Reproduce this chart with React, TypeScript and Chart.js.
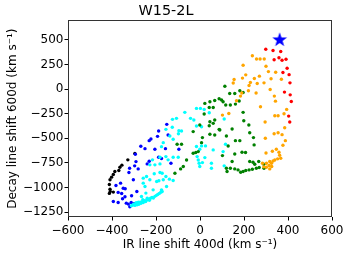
import { useEffect, useRef } from 'react';
import { Chart, registerables } from 'chart.js';

Chart.register(...registerables);

const chartTitle = 'W15-2L';
const xTitle = 'IR line shift 400d (km s\u207B\u00B9)';
const yTitle = 'Decay line shift 600d (km s\u207B\u00B9)';
const xTicks = [-600, -400, -200, 0, 200, 400, 600];
const yTicks = [-1250, -1000, -750, -500, -250, 0, 250, 500];
const xRange = [-600, 600];
const yRange = [-1300, 700];

const starPoint: [number, number][] = [[362, 500]];

const blackPts: [number, number][] = [
  [-296, -655], [-328, -719], [-355, -773], [-364, -794], [-369, -828], [-387, -838],
  [-394, -868], [-402, -895], [-409, -922], [-412, -969], [-409, -1017], [-408, -1040],
  [-394, -1047], [-412, -1060],
];

const bluePts: [number, number][] = [
  [-151, -358], [-145, -466], [-188, -426], [-193, -480], [-223, -507], [-231, -524],
  [-269, -581], [-250, -605], [-205, -611], [-157, -605], [-96, -611], [-132, -753],
  [-175, -706], [-294, -662], [-188, -692], [-231, -733], [-240, -760], [-281, -811],
  [-297, -780], [-320, -804], [-323, -848], [-303, -922], [-382, -980], [-372, -1050],
  [-356, -1061], [-340, -1013], [-341, -1094], [-352, -1115], [-372, -1152], [-335, -1159],
  [-326, -1169], [-319, -1196], [-313, -1152], [-287, -1040], [-361, -956], [-349, -1007],
  [-394, -1142], [-311, -1084], [-300, -1165], [-291, -737],
];

const cyanPts: [number, number][] = [
  [-16, -196], [2, -196], [19, -206], [42, -240], [-69, -236], [-107, -297], [-125, -307],
  [-43, -297], [-28, -314], [-16, -375], [7, -382], [-96, -422], [-126, -388], [-155, -409],
  [-137, -476], [-122, -510], [-167, -544], [-84, -426], [-98, -453],
  [-1, -611], [-13, -686], [-8, -720], [11, -747], [60, -618], [105, -635], [52, -804],
  [110, -780], [110, -304], [116, -561], [-16, -584], [7, -577], [25, -577], [22, -696],
  [52, -753], [-4, -753], [-1, -787],
  [-182, -692], [-155, -686], [-216, -719], [-228, -770], [-182, -760], [-145, -719],
  [-122, -692], [-99, -692], [-243, -888], [-208, -861], [-182, -848], [-155, -888],
  [-139, -915], [-122, -929], [-167, -922], [-187, -932], [-175, -585], [-205, -770],
  [-172, -855], [-258, -905], [-228, -922], [-197, -939], [-250, -990], [-213, -1024],
  [-175, -1024], [-152, -990], [-266, -1091], [-246, -1057], [-258, -956],
  [-312, -1185], [-305, -1178], [-300, -1170], [-296, -1182], [-290, -1165], [-286, -1175],
  [-282, -1160], [-278, -1170], [-272, -1150], [-268, -1160], [-263, -1145], [-258, -1152],
  [-252, -1135], [-247, -1142], [-242, -1128], [-236, -1120], [-230, -1130], [-225, -1110],
  [-218, -1100], [-212, -1108], [-205, -1090], [-198, -1080], [-192, -1070], [-185, -1060],
  [-178, -1048], [-172, -1040], [-280, -1150], [-290, -1155], [-260, -1125], [-240, -1110],
];

const greenPts: [number, number][] = [
  [113, 30], [135, -44], [158, -44], [181, -17], [196, -34], [178, -121], [67, -115],
  [87, -98], [98, -111], [105, -128], [45, -128], [22, -145], [60, -186], [42, -186],
  [117, -162], [138, -162], [161, -152], [196, -236], [199, -321], [222, -365], [146, -405],
  [226, -443], [161, -524], [181, -524], [243, -493], [246, -567], [102, -676], [158, -659],
  [191, -642], [207, -645], [146, -736], [226, -736], [241, -743], [249, -763], [267, -736],
  [120, -804], [138, -804], [158, -811], [173, -821], [185, -845], [196, -838], [208, -828],
  [223, -821], [238, -814], [256, -804], [269, -797], [290, -763], [291, -804], [19, -253],
  [60, -348], [42, -372], [-1, -365], [87, -409], [67, -466], [45, -459], [120, -476],
  [-31, -432], [11, -493], [7, -544], [128, -578], [-84, -561], [-104, -561], [-8, -635],
  [-19, -645], [-31, -652], [-61, -720], [-76, -787], [-88, -811], [-114, -855], [67, -314],
  [45, -331], [90, -415], [123, -838],
];

const orangePts: [number, number][] = [
  [238, 340], [257, 307], [273, 307], [292, 307], [196, 243], [300, 232], [311, 178],
  [344, 172], [208, 145], [193, 112], [270, 132], [247, 108], [323, 105], [370, 100],
  [155, 98], [151, 62], [229, 68], [223, 37], [260, 57], [291, 64], [220, -17], [190, -40],
  [184, -71], [319, -3], [338, -71], [343, -122], [255, -40], [166, -118], [275, -179],
  [394, -206], [382, -250], [102, -264], [131, -247], [340, -270], [355, -270], [296, -334],
  [337, -453], [355, -443], [373, -463], [388, -524], [377, -571], [297, -500], [300, -649],
  [329, -632], [347, -611], [359, -642], [362, -672], [367, -703], [353, -709], [332, -730],
  [317, -736], [302, -753], [284, -753], [314, -777], [326, -787], [302, -794], [317, -811],
  [290, -790], [385, -392], [340, -720], [325, -753],
];

const redPts: [number, number][] = [
  [299, 405], [332, 392], [367, 382], [337, 299], [359, 319], [373, 294], [391, 304],
  [396, 213], [377, 169], [405, 147], [409, 64], [384, -30], [410, -58], [415, -125],
  [403, -274], [408, -334],
];

const FONT = "'DejaVu Sans', sans-serif";

function makeStar(size: number, color: string) {
  const c = document.createElement('canvas');
  c.width = size;
  c.height = size;
  const ctx = c.getContext('2d')!;
  const cx = size / 2;
  const cy = size / 2;
  const R = size / 2 - 0.3;
  const r = R * 0.4;
  ctx.beginPath();
  for (let i = 0; i < 10; i++) {
    const ang = -Math.PI / 2 + (i * Math.PI) / 5;
    const rad = i % 2 === 0 ? R : r;
    ctx.lineTo(cx + rad * Math.cos(ang), cy + rad * Math.sin(ang));
  }
  ctx.closePath();
  ctx.fillStyle = color;
  ctx.fill();
  return c;
}

const toXY = (arr: [number, number][]) => arr.map(([x, y]) => ({ x, y }));
const fmt = (v: number) => (v < 0 ? '\u2212' + Math.abs(v) : String(v));

const framePlugin = {
  id: 'frame',
  afterDatasetsDraw(chart: any) {
    const { ctx, chartArea } = chart;
    ctx.save();
    ctx.strokeStyle = '#333';
    ctx.lineWidth = 1;
    const l = Math.round(chartArea.left) + 0.5;
    const t = Math.round(chartArea.top) + 0.5;
    const r = Math.round(chartArea.right) - 0.5;
    const b = Math.round(chartArea.bottom) - 0.5;
    ctx.strokeRect(l, t, r - l, b - t);
    ctx.restore();
  },
};

export default function App() {
  const ref = useRef<HTMLCanvasElement>(null);
  useEffect(() => {
    document.body.style.margin = '0';
    const canvas = ref.current!;
    const star = makeStar(16, '#0000ff');
    const dot = (label: string, data: [number, number][], color: string) => ({
      label,
      data: toXY(data),
      backgroundColor: color,
      borderWidth: 0,
      pointRadius: 1.7,
      pointHoverRadius: 1.7,
    });
    const chart = new Chart(canvas, {
      type: 'scatter',
      data: {
        datasets: [
          {
            label: 'star',
            data: toXY(starPoint),
            pointStyle: star as any,
            pointRadius: 8,
            backgroundColor: '#0000ff',
            borderWidth: 0,
          },
          dot('red', redPts, '#ff0000'),
          dot('orange', orangePts, '#ffa500'),
          dot('green', greenPts, '#008000'),
          dot('cyan', cyanPts, '#00ffff'),
          dot('blue', bluePts, '#0000ff'),
          dot('black', blackPts, '#000000'),
        ],
      },
      options: {
        responsive: false,
        animation: false,
        events: [],
        layout: { padding: { left: 0, right: 17, top: 0, bottom: 0 } },
        plugins: {
          legend: { display: false },
          tooltip: { enabled: false },
          title: {
            display: true,
            text: chartTitle,
            color: '#000',
            font: { family: FONT, size: 14.4, weight: 'normal', lineHeight: 1.2 },
            padding: { top: 3, bottom: 0 },
          },
        },
        scales: {
          x: {
            type: 'linear',
            min: xRange[0],
            max: xRange[1],
            afterBuildTicks: (s: any) => {
              s.ticks = xTicks.map((v) => ({ value: v }));
            },
            afterFit: (s: any) => {
              s.height = 39;
            },
            grid: {
              display: true,
              drawOnChartArea: false,
              drawTicks: true,
              tickLength: 3.5,
              color: '#000',
            },
            border: { display: false },
            ticks: {
              color: '#000',
              font: { family: FONT, size: 12 },
              padding: 3,
              maxRotation: 0,
              autoSkip: false,
              callback: (v: any) => fmt(Number(v)),
            },
            title: {
              display: true,
              text: xTitle,
              color: '#000',
              font: { family: FONT, size: 12, lineHeight: 1.2 },
              padding: { top: 0, bottom: 4 },
            },
          },
          y: {
            type: 'linear',
            min: yRange[0],
            max: yRange[1],
            afterBuildTicks: (s: any) => {
              s.ticks = yTicks.map((v) => ({ value: v }));
            },
            afterFit: (s: any) => {
              s.width = 68;
            },
            grid: {
              display: true,
              drawOnChartArea: false,
              drawTicks: true,
              tickLength: 3.5,
              color: '#000',
            },
            border: { display: false },
            ticks: {
              color: '#000',
              font: { family: FONT, size: 12 },
              padding: 1,
              autoSkip: false,
              callback: (v: any) => fmt(Number(v)),
            },
            title: {
              display: true,
              text: yTitle,
              color: '#000',
              font: { family: FONT, size: 12, lineHeight: 1.2 },
              padding: { top: 5.5, bottom: 0 },
            },
          },
        },
      },
      plugins: [framePlugin],
    } as any);
    return () => chart.destroy();
  }, []);
  return (
    <canvas
      ref={ref}
      width={349}
      height={256}
      style={{ display: 'block', width: '349px', height: '256px' }}
    />
  );
}
